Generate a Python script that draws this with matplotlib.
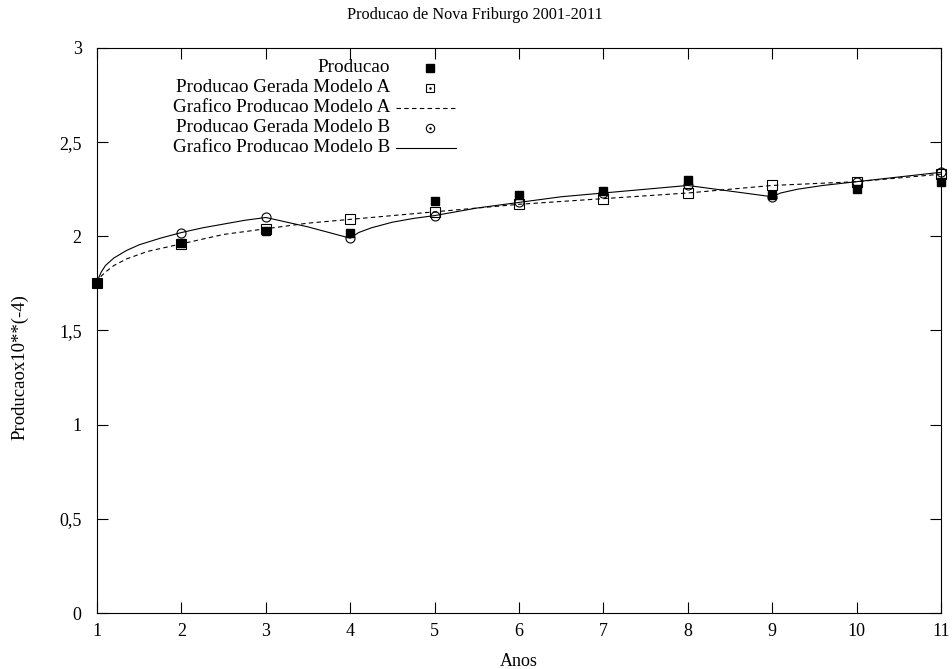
import numpy as np
import matplotlib.pyplot as plt

plt.rcParams['font.family'] = ['Liberation Serif', 'DejaVu Serif']
plt.rcParams['font.size'] = 12

# dados
anos = [1, 2, 3, 4, 5, 6, 7, 8, 9, 10, 11]
producao = [1.75, 1.965, 2.03, 2.02, 2.19, 2.22, 2.24, 2.30, 2.22, 2.25, 2.29]
gerada_a = [1.75, 1.96, 2.04, 2.09, 2.13, 2.17, 2.20, 2.23, 2.27, 2.29, 2.33]
gerada_b = [1.75, 2.02, 2.10, 1.99, 2.11, 2.18, 2.23, 2.27, 2.21, 2.29, 2.34]

# curvas dos modelos
curva_a_x = [1.0, 1.03, 1.1, 1.2, 1.35, 1.6, 2.0, 2.5, 3.0, 3.5, 4.0, 5.0, 6.0, 7.0, 8.0, 9.0, 10.0, 11.0]
curva_a_y = [1.75, 1.78, 1.81, 1.845, 1.88, 1.92, 1.96, 2.01, 2.04, 2.07, 2.09, 2.13, 2.17, 2.20,
             2.23, 2.27, 2.29, 2.33]
curva_b_x = [1.0, 1.02, 1.05, 1.1, 1.2, 1.35, 1.5, 1.75, 2.0, 2.25, 2.5, 2.75, 3.0,
             3.25, 3.5, 3.75, 4.0, 4.1, 4.25, 4.5, 4.75, 5.0, 5.5, 6.0, 6.5, 7.0, 7.5, 8.0,
             8.25, 8.5, 8.75, 9.0, 9.1, 9.3, 9.6, 10.0, 10.5, 11.0]
curva_b_y = [1.75, 1.78, 1.81, 1.845, 1.885, 1.925, 1.955, 1.99, 2.02, 2.045, 2.065, 2.085, 2.10,
             2.075, 2.05, 2.02, 1.99, 2.02, 2.045, 2.075, 2.095, 2.11, 2.15, 2.18, 2.21, 2.23, 2.25, 2.27,
             2.255, 2.24, 2.225, 2.21, 2.23, 2.25, 2.27, 2.29, 2.315, 2.34]

yticks = [0, 0.5, 1, 1.5, 2, 2.5, 3]
yticklabels = ['0', '0,5', '1', '1,5', '2', '2,5', '3']

fig = plt.figure(figsize=(9.53, 6.69), dpi=100)
ax = fig.add_axes([0.1018, 0.0837, 0.8856, 0.8446])

ax.plot(curva_a_x, curva_a_y, color='black', lw=0.8, dashes=(4, 3))
ax.plot(curva_b_x, curva_b_y, color='black', lw=0.8)
ax.plot(anos, producao, 's', color='black', ms=6, clip_on=False)
ax.plot(anos, gerada_a, 's', mfc='none', mec='black', mew=0.8, ms=6.5, clip_on=False)
ax.plot(anos, gerada_b, 'o', mfc='none', mec='black', mew=0.8, ms=6.5, clip_on=False)

# legenda a mao, texto alinhado a direita
xt, xm, xl0, xl1 = 0.347, 0.3945, 0.3545, 0.4254
linhas_y = [0.9646, 0.9292, 0.8938, 0.8584, 0.8230]
rotulos = ['Producao', 'Producao Gerada Modelo A', 'Grafico Producao Modelo A',
           'Producao Gerada Modelo B', 'Grafico Producao Modelo B']
for y, r in zip(linhas_y, rotulos):
    ax.text(xt, y, r, transform=ax.transAxes, ha='right', va='center', fontsize=13.8)
tr = ax.transAxes
ax.plot([xm], [linhas_y[0]], 's', color='black', ms=5.5, transform=tr)
ax.plot([xm], [linhas_y[1]], 's', mfc='none', mec='black', mew=0.8, ms=6, transform=tr)
ax.plot([xm], [linhas_y[1]], '.', color='black', ms=1.5, transform=tr)
ax.plot([xl0, xl1], [linhas_y[2]] * 2, color='black', lw=0.8, dashes=(4, 3), transform=tr)
ax.plot([xm], [linhas_y[3]], 'o', mfc='none', mec='black', mew=0.8, ms=6, transform=tr)
ax.plot([xm], [linhas_y[3]], '.', color='black', ms=1.5, transform=tr)
ax.plot([xl0, xl1], [linhas_y[4]] * 2, color='black', lw=0.8, transform=tr)

ax.set_xlim(1, 11)
ax.set_ylim(0, 3)
ax.set_xticks(anos)
ax.set_yticks(yticks)
ax.set_yticklabels(yticklabels)
ax.tick_params(direction='in', length=8, width=0.8, top=True, right=True, labelsize=13)
ax.tick_params(axis='y', pad=11)
ax.tick_params(axis='x', pad=7)
for s in ax.spines.values():
    s.set_linewidth(0.8)

fig.text(0.4984, 0.978, 'Producao de Nova Friburgo 2001-2011', ha='center', va='center', fontsize=11.7)
ax.set_xlabel('Anos', fontsize=13)
ax.set_ylabel('Producaox10**(-4)', fontsize=13.5)
ax.xaxis.set_label_coords(0.5, -0.085)
ax.yaxis.set_label_coords(-0.091, 0.435)
ax.xaxis.label.set_va('center')
ax.yaxis.label.set_va('center')

plt.savefig('out.png', dpi=100)
